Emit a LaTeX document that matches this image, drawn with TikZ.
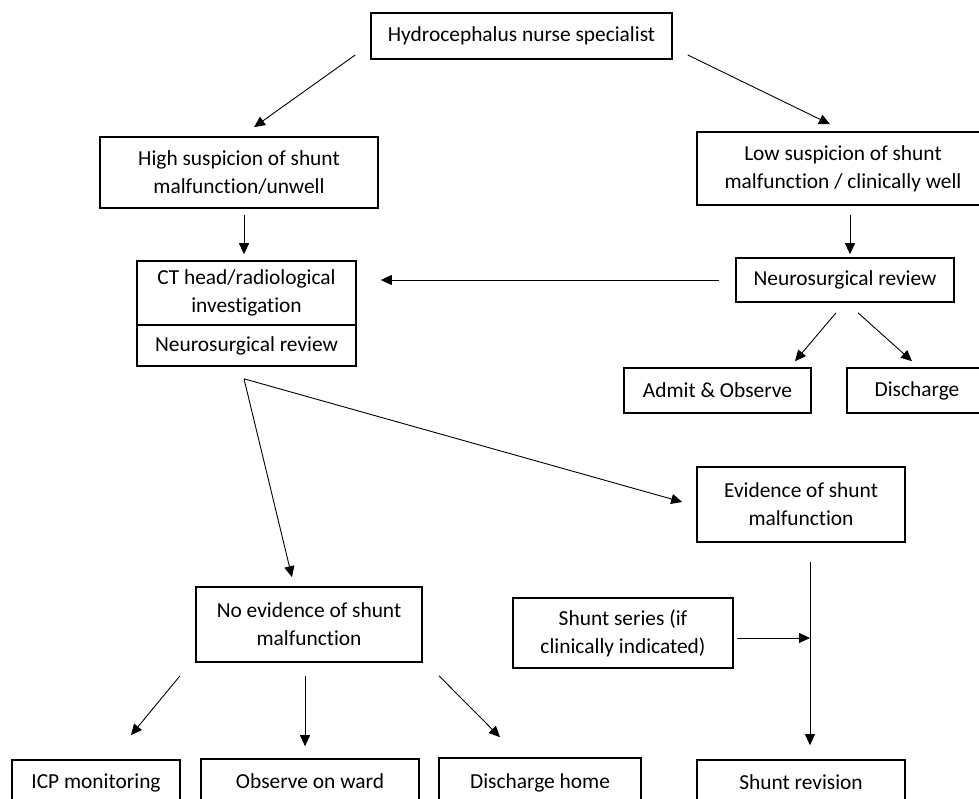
\documentclass[tikz,border=0pt]{standalone}
\usepackage{fontspec}
\setmainfont{Carlito}[Ligatures=NoCommon]
\usetikzlibrary{arrows.meta}

\begin{document}
\begin{tikzpicture}[x=1pt,y=-1pt,
    box/.style={draw,line width=1.6pt,align=center,inner sep=0pt,font=\fontsize{21.4}{28}\selectfont},
    arr/.style={line width=0.9pt,-{Triangle[length=11pt,width=10pt]}}]
  \clip (0,0) rectangle (979,798);
  % boxes: name/x/y/width/height/text
  \foreach \n/\x/\y/\w/\h/\t in {
      hydro/521.5/36/301/46/{Hydrocephalus nurse specialist},
      high/239/172.5/278/71/{High suspicion of shunt\\malfunction/unwell},
      low/843/168.5/292/73/{Low suspicion of shunt\\malfunction / clinically well},
      ct/246.5/293/219/64/{CT head/radiological\\investigation},
      ctrev/246.5/345.5/219/41/{Neurosurgical review},
      nsr/845/280/218/44/{Neurosurgical review},
      admit/717.5/390.5/187/45/{Admit \& Observe},
      disch/917/390.5/140/45/{Discharge},
      evid/801/504.5/208/75/{Evidence of shunt\\malfunction},
      noev/309/624.5/226/75/{No evidence of shunt\\malfunction},
      series/623/633/220/70/{Shunt series (if\\clinically indicated)},
      icp/96/782.5/168/45/{ICP monitoring},
      observe/310/781.5/218/45/{Observe on ward},
      dhome/540/782.5/202/49/{Discharge home},
      revision/801/782.5/208/45/{Shunt revision}}
    \node[box,minimum width=\w pt,minimum height=\h pt] (\n) at (\x,\y) {\t};
  \coordinate (join) at (810,638);

  \draw[arr] ([shift={(-15,19)}]hydro.west) -- ([shift={(15,-9)}]high.north);
  \draw[arr] ([shift={(15,19)}]hydro.east) -- ([shift={(-13,-7)}]low.north);
  \draw[arr] ([shift={(5,6)}]high.south) -- ([shift={(-2.5,-6)}]ct.north);
  \draw[arr] ([shift={(7,9)}]low.south) -- ([shift={(5,-3)}]nsr.north);
  \draw[arr] ([shift={(-16,0)}]nsr.west) -- ([shift={(24,-13)}]ct.east);
  \draw[arr] ([shift={(-9,10)}]nsr.south) -- ([shift={(77.5,-6)}]admit.north);
  \draw[arr] ([shift={(13,10)}]nsr.south) -- ([shift={(-5,-6)}]disch.north);
  \draw[arr] ([shift={(-2.5,12)}]ctrev.south) -- ([shift={(-17,-9)}]noev.north);
  \draw[arr] ([shift={(-2.5,12)}]ctrev.south) -- ([shift={(-14,-2.5)}]evid.west);
  \draw[arr] ([shift={(9,19)}]evid.south) -- ([shift={(9,-14)}]revision.north);
  \draw[arr] ([shift={(3,5)}]series.east) -- (join);
  % three outcomes below no evidence
  \foreach \t/\s/\e in {icp/-129/{35,-24},observe/-4/{-5,-12},dhome/130/{-40,-20}}
    \draw[arr] ([shift={(\s,13)}]noev.south) -- ([shift={(\e)}]\t.north);
\end{tikzpicture}
\end{document}
